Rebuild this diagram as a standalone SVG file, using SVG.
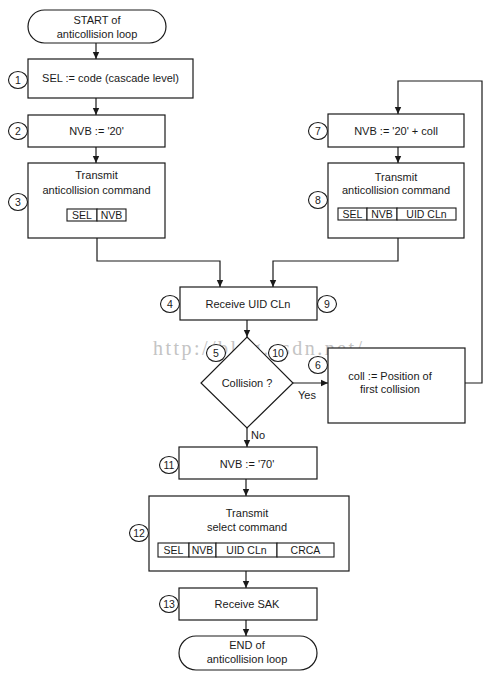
<svg xmlns="http://www.w3.org/2000/svg" width="500" height="679" viewBox="0 0 500 679">
<style>
.box{fill:#fff;stroke:#1a1a1a;stroke-width:1.2}
.num{fill:#fff;stroke:#1a1a1a;stroke-width:1.1}
.cell{fill:#fff;stroke:#1a1a1a;stroke-width:1.1}
.ln{fill:none;stroke:#1a1a1a;stroke-width:1.2}
text{font-family:"Liberation Sans",Arial,sans-serif;font-size:11px;fill:#1a1a1a;text-anchor:middle}
.n{font-size:10.5px}
.t{font-size:10.5px}
.wm{font-family:"Liberation Serif","Times New Roman",serif;font-size:20px;fill:#c4c4c4;text-anchor:start}
</style>
<defs>
<marker id="ah" markerUnits="userSpaceOnUse" markerWidth="8" markerHeight="8" refX="7" refY="4" orient="auto">
<path d="M0,0.8 L7,4 L0,7.2 z" fill="#1a1a1a"/>
</marker>
</defs>
<rect width="500" height="679" fill="#fff"/>
<text class="wm" x="153" y="355" textLength="209" lengthAdjust="spacing">http://blog.csdn.net/</text>
<g id="connectors">
<line class="ln" x1="96" y1="43" x2="96" y2="59" marker-end="url(#ah)"/>
<line class="ln" x1="96" y1="98" x2="96" y2="115" marker-end="url(#ah)"/>
<line class="ln" x1="96" y1="147" x2="96" y2="163" marker-end="url(#ah)"/>
<polyline class="ln" points="97,238 97,261 220,261 220,287" marker-end="url(#ah)"/>
<line class="ln" x1="398" y1="147" x2="398" y2="163" marker-end="url(#ah)"/>
<polyline class="ln" points="398,238 398,261 273,261 273,287" marker-end="url(#ah)"/>
<line class="ln" x1="247" y1="320" x2="247" y2="337" marker-end="url(#ah)"/>
<line class="ln" x1="293" y1="383" x2="328" y2="383" marker-end="url(#ah)"/>
<polyline class="ln" points="465,383 482,383 482,81 398,81 398,114" marker-end="url(#ah)"/>
<line class="ln" x1="247" y1="428" x2="247" y2="447" marker-end="url(#ah)"/>
<line class="ln" x1="246" y1="479" x2="246" y2="496" marker-end="url(#ah)"/>
<line class="ln" x1="246" y1="571" x2="246" y2="588" marker-end="url(#ah)"/>
<line class="ln" x1="246" y1="620" x2="246" y2="636" marker-end="url(#ah)"/>
<text x="307" y="399">Yes</text>
<text x="258" y="439">No</text>
</g>
<g id="start">
<rect class="box" x="28" y="10" width="138" height="33" rx="16.5"/>
<text x="97" y="24">START of</text>
<text x="97" y="38">anticollision loop</text>
</g>
<g id="step1">
<rect class="box" x="28" y="59" width="165" height="39"/>
<text x="110.5" y="82">SEL := code (cascade level)</text>
<ellipse class="num" cx="18" cy="80" rx="9.5" ry="8.5"/><text class="n" x="18" y="84">1</text>
</g>
<g id="step2">
<rect class="box" x="28" y="115" width="137" height="32"/>
<text x="96.5" y="135">NVB := '20'</text>
<ellipse class="num" cx="18" cy="131" rx="9.5" ry="8.5"/><text class="n" x="18" y="135">2</text>
</g>
<g id="step3">
<rect class="box" x="28" y="163" width="137" height="75"/>
<text x="96.5" y="179">Transmit</text>
<text x="96.5" y="194">anticollision command</text>
<rect class="cell" x="67" y="209" width="30" height="12"/>
<rect class="cell" x="97" y="209" width="29" height="12"/>
<text class="t" x="82" y="219">SEL</text>
<text class="t" x="111.5" y="219">NVB</text>
<ellipse class="num" cx="18" cy="202" rx="9.5" ry="8.5"/><text class="n" x="18" y="206">3</text>
</g>
<g id="step4">
<rect class="box" x="180" y="287" width="137" height="33"/>
<text x="248" y="308">Receive UID CLn</text>
<ellipse class="num" cx="170" cy="304" rx="9.5" ry="8.5"/><text class="n" x="170" y="308">4</text>
<ellipse class="num" cx="327" cy="304" rx="9.5" ry="8.5"/><text class="n" x="327" y="308">9</text>
</g>
<g id="step5">
<polygon class="box" points="247,337 293,383 247,428 201,383"/>
<text x="247" y="387">Collision ?</text>
<ellipse class="num" cx="216" cy="353" rx="9.5" ry="8.5"/><text class="n" x="216" y="357">5</text>
<ellipse class="num" cx="278" cy="353" rx="9.5" ry="8.5"/><text class="n" x="278" y="357">10</text>
</g>
<g id="step6">
<rect class="box" x="328" y="348" width="137" height="75"/>
<text x="390" y="380">coll :=  Position of</text>
<text x="390" y="393">first collision</text>
<ellipse class="num" cx="318" cy="365" rx="9.5" ry="8.5"/><text class="n" x="318" y="369">6</text>
</g>
<g id="step7">
<rect class="box" x="328" y="114" width="136" height="33"/>
<text x="396" y="135">NVB := '20' + coll</text>
<ellipse class="num" cx="318" cy="131" rx="9.5" ry="8.5"/><text class="n" x="318" y="135">7</text>
</g>
<g id="step8">
<rect class="box" x="328" y="163" width="136" height="75"/>
<text x="396" y="181">Transmit</text>
<text x="396" y="194">anticollision command</text>
<rect class="cell" x="338" y="208" width="29" height="12"/>
<rect class="cell" x="367" y="208" width="30" height="12"/>
<rect class="cell" x="397" y="208" width="59" height="12"/>
<text class="t" x="352.5" y="218">SEL</text>
<text class="t" x="382" y="218">NVB</text>
<text class="t" x="426.5" y="218">UID CLn</text>
<ellipse class="num" cx="318" cy="200" rx="9.5" ry="8.5"/><text class="n" x="318" y="204">8</text>
</g>
<g id="step11">
<rect class="box" x="179" y="447" width="138" height="32"/>
<text x="247" y="468">NVB := '70'</text>
<ellipse class="num" cx="169" cy="465" rx="9.5" ry="8.5"/><text class="n" x="169" y="469">11</text>
</g>
<g id="step12">
<rect class="box" x="149" y="496" width="200" height="75"/>
<text x="247" y="517">Transmit</text>
<text x="247" y="531">select command</text>
<rect class="cell" x="158" y="543" width="31" height="14"/>
<rect class="cell" x="189" y="543" width="27" height="14"/>
<rect class="cell" x="216" y="543" width="61" height="14"/>
<rect class="cell" x="277" y="543" width="57" height="14"/>
<text class="t" x="173.5" y="554">SEL</text>
<text class="t" x="202.5" y="554">NVB</text>
<text class="t" x="246.5" y="554">UID CLn</text>
<text class="t" x="305.5" y="554">CRCA</text>
<ellipse class="num" cx="139" cy="533" rx="9.5" ry="8.5"/><text class="n" x="139" y="537">12</text>
</g>
<g id="step13">
<rect class="box" x="179" y="588" width="138" height="32"/>
<text x="247" y="608">Receive SAK</text>
<ellipse class="num" cx="169" cy="604" rx="9.5" ry="8.5"/><text class="n" x="169" y="608">13</text>
</g>
<g id="end">
<rect class="box" x="179" y="636" width="138" height="34" rx="17"/>
<text x="247" y="649">END of</text>
<text x="247" y="663">anticollision loop</text>
</g>
</svg>
